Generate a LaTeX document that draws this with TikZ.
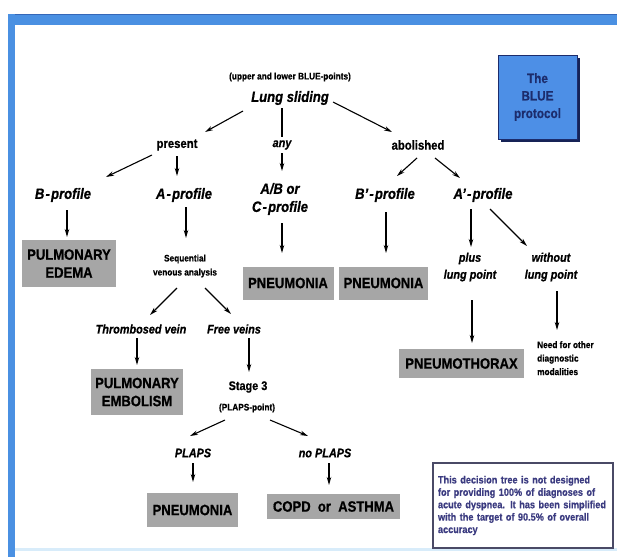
\documentclass[tikz,border=0pt]{standalone}
\usepackage{fontspec}
\setmainfont[FakeStretch=0.87,BoldFeatures={FakeBold=0.6},BoldItalicFeatures={FakeBold=0.6}]{Liberation Sans}
\usetikzlibrary{arrows.meta}
\definecolor{frameblue}{HTML}{4A90E2}
\definecolor{frameedge}{HTML}{3567B8}
\definecolor{paleblue}{HTML}{D8ECFA}
\definecolor{boxgray}{HTML}{A6A6A6}
\definecolor{bluefill}{HTML}{4D8FE6}
\definecolor{navy}{HTML}{1C2C6C}
\definecolor{notetext}{HTML}{3B3B80}
\definecolor{noteedge}{HTML}{4A4A66}
\newcommand\fprof{\fontsize{15}{18}\selectfont\bfseries\itshape}
\newcommand\fmid{\fontsize{13}{16}\selectfont\bfseries}
\newcommand\fmidit{\fontsize{12.5}{17}\selectfont\bfseries\itshape}
\newcommand\fsmall{\fontsize{9.5}{14}\selectfont\bfseries}
\newcommand\fgbox{\fontsize{15}{18}\selectfont\bfseries}
\newcommand\hy{\kern1.2pt-\kern1.2pt}
\begin{document}
\begin{tikzpicture}[x=1pt,y=-1pt,
  txt/.style={inner sep=0pt,align=center,text=black},
  grbox/.style={fill=boxgray,inner sep=0pt,align=center,font=\fgbox},
  arr/.style={-{Stealth[length=8pt,width=4.5pt]},line width=1.1pt},
  plain/.style={line width=1.1pt}]
\useasboundingbox (0,0) rectangle (617,557);
\fill[white] (0,0) rectangle (617,557);
% frame
\fill[frameblue] (8,14) rectangle (617,25);
\draw[frameedge,line width=1pt] (8,14.5) -- (617,14.5);
\fill[frameblue] (8,14) rectangle (15,557);
\fill[paleblue] (15,548) rectangle (617,551);

% blue protocol box
\fill[navy!80!black] (501,58) rectangle (580,142);
\node[draw=navy,line width=1pt,fill=bluefill,minimum width=79pt,minimum height=84pt,inner sep=0pt,align=center,text=navy,font=\fontsize{13.5}{17.5}\selectfont\bfseries] (blue) at (537.5,97) {The\\BLUE\\protocol};

% nodes
\node[txt,font=\fsmall] (title) at (290,77) {(upper and lower BLUE-points)};
\node[txt,font=\fprof] (lung) at (290,98) {Lung sliding};
\node[txt,font=\fmid] (present) at (177,145) {present};
\node[txt,font=\fmidit] (any) at (282,145) {any};
\node[txt,font=\fmid] (abolished) at (418,145) {abolished};
\node[txt,font=\fprof] (bprof) at (63,195) {B\hy profile};
\node[txt,font=\fprof] (aprof) at (184,195) {A\hy profile};
\node[txt,font=\fprof] (abc) at (280,199) {A/B or\\C\hy profile};
\node[txt,font=\fprof] (bpprof) at (385,195) {B’\hy profile};
\node[txt,font=\fprof] (approf) at (483,195) {A’\hy profile};
\node[grbox,minimum width=94pt,minimum height=47pt] (edema) at (69,263.5) {PULMONARY\\EDEMA};
\node[txt,font=\fsmall] (seq) at (185,266) {Sequential\\venous analysis};
\node[grbox,minimum width=91pt,minimum height=33pt] (pneu1) at (288,283) {PNEUMONIA};
\node[grbox,minimum width=89pt,minimum height=33pt] (pneu2) at (383.5,283) {PNEUMONIA};
\node[txt,font=\fmidit] (plus) at (470,267) {plus\\lung point};
\node[txt,font=\fmidit] (without) at (551,267) {without\\lung point};
\node[grbox,minimum width=125pt,minimum height=29pt] (pthorax) at (461.5,363.5) {PNEUMOTHORAX};
\node[txt,font=\fontsize{9.5}{13.5}\selectfont\bfseries,align=left,anchor=north west] (need) at (537,341) {Need for other\\diagnostic\\modalities};
\node[txt,font=\fmidit] (thromb) at (141,329) {Thrombosed vein};
\node[txt,font=\fmidit] (free) at (234,329) {Free veins};
\node[grbox,minimum width=92pt,minimum height=46pt] (embolism) at (137,392) {PULMONARY\\EMBOLISM};
\node[txt,font=\fontsize{12.5}{15}\selectfont\bfseries] (stage3) at (248,387) {Stage 3};
\node[txt,font=\fsmall] (plapspt) at (247,408) {(PLAPS-point)};
\node[txt,font=\fmidit] (plaps) at (193,453) {PLAPS};
\node[txt,font=\fmidit] (noplaps) at (325,453) {no PLAPS};
\node[grbox,minimum width=91pt,minimum height=34pt] (pneu3) at (192.5,510) {PNEUMONIA};
\node[grbox,minimum width=133pt,minimum height=25pt] (copd) at (333.5,506.5) {COPD\ \ or\ \ ASTHMA};
\node[draw=noteedge,line width=1.2pt,fill=white,minimum width=180pt,minimum height=85pt,inner sep=0pt,text=notetext,align=left,font=\fontsize{10.5}{12.4}\selectfont\bfseries,text width=170pt] (note) at (523,505.5) {This decision tree is not designed\\for providing 100\% of diagnoses of\\acute dyspnea. It has been simplified\\with the target of 90.5\% of overall\\accuracy};

% connectors
\draw[arr] ([shift={(-47,13)}]lung.center) -- ([shift={(28,-13)}]present.center);
\draw[plain] ([shift={(0,-37)}]any.center) -- ([shift={(0,-8)}]any.center);
\draw[arr] ([shift={(0,8)}]any.center) -- ([shift={(2,-28)}]abc.center);
\draw[arr] ([shift={(43,4)}]lung.center) -- ([shift={(-26,-13)}]abolished.center);
\draw[arr] ([shift={(-25,10)}]present.center) -- ([shift={(43,-18)}]bprof.center);
\draw[arr] ([shift={(0,11)}]present.center) -- ([shift={(-7,-19)}]aprof.center);
\draw[arr] ([shift={(-1,13)}]abolished.center) -- ([shift={(12,-19)}]bpprof.center);
\draw[arr] ([shift={(17,13)}]abolished.center) -- ([shift={(-23,-17)}]approf.center);
\draw[arr] ([shift={(4,15)}]bprof.center) -- ([shift={(-2,-26.5)}]edema.center);
\draw[arr] ([shift={(2,12)}]aprof.center) -- ([shift={(1,-28)}]seq.center);
\draw[arr] ([shift={(2,24)}]abc.center) -- ([shift={(-6,-30)}]pneu1.center);
\draw[arr] ([shift={(1,17)}]bpprof.center) -- ([shift={(2.5,-30)}]pneu2.center);
\draw[arr] ([shift={(-12,14)}]approf.center) -- ([shift={(1,-20)}]plus.center);
\draw[arr] ([shift={(7,14)}]approf.center) -- ([shift={(-24,-21)}]without.center);
\draw[arr] ([shift={(2,33)}]plus.center) -- ([shift={(10.5,-20.5)}]pthorax.center);
\draw[arr] ([shift={(6,24)}]without.center) -- ([shift={(20,-11)}]need.north west);
\draw[arr] ([shift={(-8,22)}]seq.center) -- ([shift={(9,-14)}]thromb.center);
\draw[arr] ([shift={(20,22)}]seq.center) -- ([shift={(-3,-15)}]free.center);
\draw[arr] ([shift={(-4,9)}]thromb.center) -- ([shift={(0,-27)}]embolism.center);
\draw[arr] ([shift={(15,9)}]free.center) -- ([shift={(1,-15)}]stage3.center);
\draw[arr] ([shift={(-22,12)}]plapspt.center) -- ([shift={(-3,-17)}]plaps.center);
\draw[arr] ([shift={(23,12)}]plapspt.center) -- ([shift={(-17,-17)}]noplaps.center);
\draw[arr] ([shift={(0,10)}]plaps.center) -- ([shift={(0.5,-28)}]pneu3.center);
\draw[arr] ([shift={(4,10)}]noplaps.center) -- ([shift={(-4.5,-21.5)}]copd.center);
\end{tikzpicture}
\end{document}
